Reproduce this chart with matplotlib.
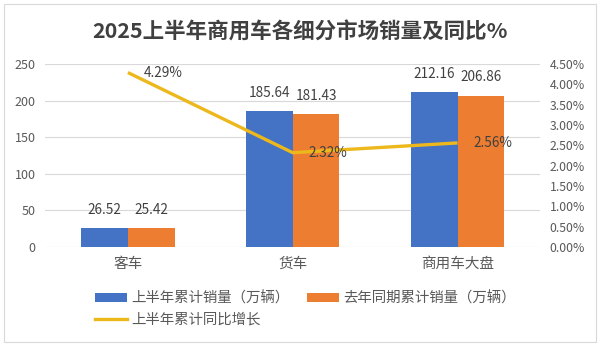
import matplotlib
matplotlib.use("Agg")
import matplotlib.pyplot as plt
from matplotlib.patches import Rectangle
from matplotlib.lines import Line2D
from matplotlib.patches import Patch
import numpy as np

plt.rcParams['font.family'] = ['Noto Sans CJK SC', 'DejaVu Sans']

categories = ["客车", "货车", "商用车大盘"]
sales_h1 = [26.52, 185.64, 212.16]
sales_prev = [25.42, 181.43, 206.86]
growth_pct = [4.29, 2.32, 2.56]
left_ticks = [0, 50, 100, 150, 200, 250]
right_ticks = [0.0, 0.5, 1.0, 1.5, 2.0, 2.5, 3.0, 3.5, 4.0, 4.5]
title = "2025上半年商用车各细分市场销量及同比%"
legend_labels = ["上半年累计销量（万辆）", "去年同期累计销量（万辆）", "上半年累计同比增长"]

BLUE = "#4472C4"
ORANGE = "#ED7D31"
GOLD = "#EDB81C"
GRID = "#D9D9D9"
TXT = "#595959"
LBL = "#404040"

fig = plt.figure(figsize=(6.0, 3.46), dpi=100)
fig.patches.append(Rectangle((0.007, 0.012), 0.986, 0.976, transform=fig.transFigure,
                             fill=False, edgecolor="#D9D9D9", linewidth=0.8))

ax = fig.add_axes([0.0758, 0.286, 0.8242, 0.529])
x = np.arange(len(categories))
w = 0.283
b1 = ax.bar(x - w / 2, sales_h1, width=w, color=BLUE, zorder=2)
b2 = ax.bar(x + w / 2, sales_prev, width=w, color=ORANGE, zorder=2)
ax.set_xlim(-0.5, 2.5)
ax.set_ylim(0, 250)
ax.set_yticks(left_ticks)
ax.grid(axis='y', color=GRID, linewidth=0.8, zorder=0)
ax.set_axisbelow(True)
for s in ax.spines.values():
    s.set_visible(False)
ax.tick_params(axis='both', length=0)
ax.tick_params(axis='y', labelsize=9, labelcolor=TXT, pad=7)
ax.set_xticks(x)
ax.set_xticklabels(categories, fontsize=10.5, color=TXT)
ax.tick_params(axis='x', pad=7)

for bars in (b1, b2):
    for r in bars:
        h = r.get_height()
        ax.annotate(f"{h:.2f}", (r.get_x() + r.get_width() / 2, h),
                    xytext=(0, 8), textcoords='offset points',
                    ha='center', va='bottom', fontsize=9.8, color=LBL)

ax2 = ax.twinx()
ax2.set_ylim(0, 4.5)
ax2.set_yticks(right_ticks)
ax2.set_yticklabels([f"{t:.2f}%" for t in right_ticks])
for s in ax2.spines.values():
    s.set_visible(False)
ax2.tick_params(axis='y', length=0, labelsize=8.8, labelcolor=TXT, pad=7)
ax2.plot(x, growth_pct, color=GOLD, linewidth=2.4, solid_capstyle='butt', zorder=3)
for xi, g in zip(x, growth_pct):
    ax2.annotate(f"{g:.2f}%", (xi, g), xytext=(11.5, 0), textcoords='offset points',
                 ha='left', va='center', fontsize=9.8, color=LBL)

fig.text(0.5, 0.907, title, ha='center', va='center', fontsize=15.5,
         fontweight='bold', color="#404040")

handles = [Patch(facecolor=BLUE), Line2D([0], [0], color=GOLD, linewidth=2.4),
           Patch(facecolor=ORANGE)]
labels = [legend_labels[0], legend_labels[2], legend_labels[1]]
fig.legend(handles, labels, ncol=2, loc='upper left', bbox_to_anchor=(0.158, 0.158),
           frameon=False, fontsize=10.4, labelcolor=TXT, handlelength=2.2,
           handleheight=0.65, handletextpad=0.3, columnspacing=1.25,
           labelspacing=0.5, borderaxespad=0, borderpad=0)

fig.savefig("out.png", dpi=100)
